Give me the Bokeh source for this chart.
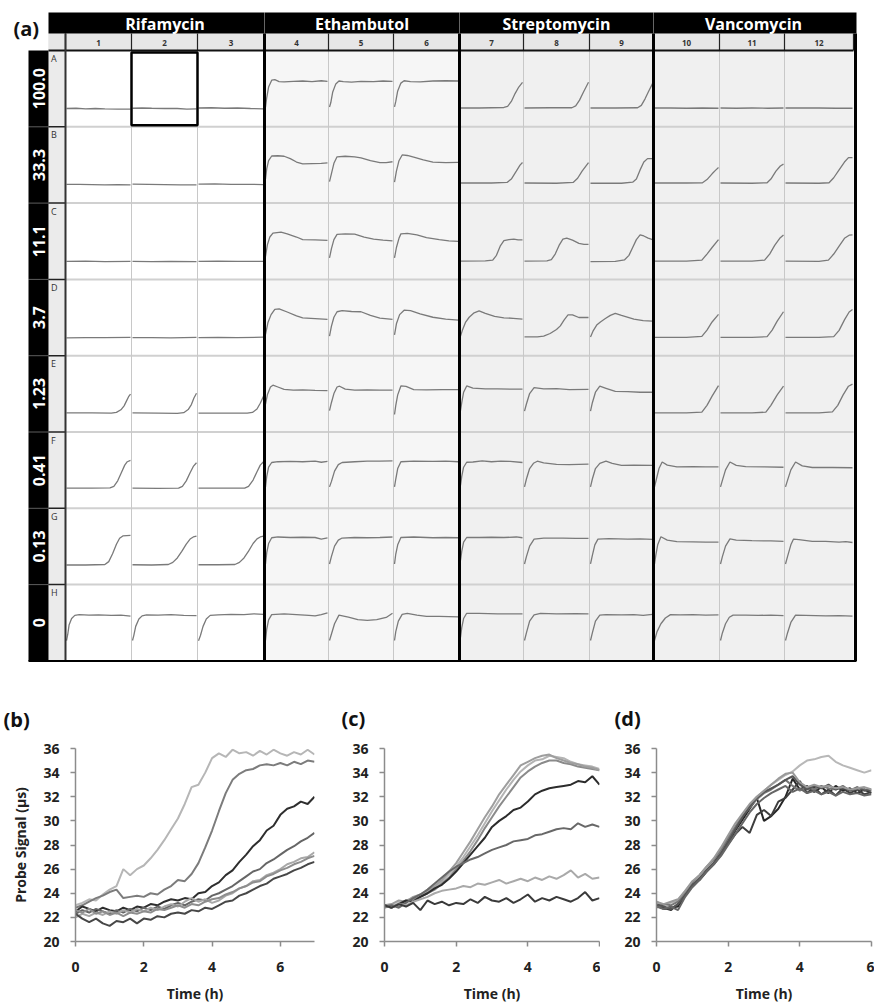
import math
from bokeh.plotting import figure
from bokeh.models import Range1d, FixedTicker
from bokeh.layouts import column, row
from bokeh.embed import file_html
from bokeh.resources import INLINE
from bokeh.core.properties import value

# ---------------- data: plate (a) ----------------
DRUGS = ["Rifamycin", "Ethambutol", "Streptomycin", "Vancomycin"]
CONCENTRATIONS = ["100.0", "33.3", "11.1", "3.7", "1.23", "0.41", "0.13", "0"]
ROW_LETTERS = ["A", "B", "C", "D", "E", "F", "G", "H"]
COLUMN_NUMBERS = ["1", "2", "3", "4", "5", "6", "7", "8", "9", "10", "11", "12"]
HIGHLIGHT_WELL = ("A", "2")

# each well: (fraction of the well's time span, probe signal in µs); rows A..H, three replicates
RIFAMYCIN = [
    [[(0, 22.8), (.15, 22.9), (.3, 22.7), (.45, 22.8), (.6, 22.7), (.8, 22.6), (1, 22.6)],
     [(0, 22.9), (.15, 23.0), (.3, 22.9), (.5, 22.8), (.7, 22.8), (.85, 22.6), (1, 22.7)],
     [(0, 23.0), (.2, 23.1), (.4, 22.9), (.6, 23.0), (.8, 22.8), (1, 22.7)]],
    [[(0, 23.0), (.2, 23.0), (.4, 22.9), (.6, 22.8), (.8, 22.9), (1, 22.8)],
     [(0, 23.1), (.25, 23.0), (.5, 22.9), (.75, 22.8), (1, 22.8)],
     [(0, 23.1), (.25, 23.2), (.5, 23.0), (.75, 23.0), (1, 22.9)]],
    [[(0, 22.7), (.3, 22.8), (.6, 22.6), (1, 22.7)],
     [(0, 22.7), (.3, 22.6), (.6, 22.7), (1, 22.6)],
     [(0, 22.7), (.3, 22.8), (.6, 22.7), (1, 22.7)]],
    [[(0, 22.6), (.3, 22.7), (.6, 22.7), (1, 22.8)],
     [(0, 22.7), (.3, 22.7), (.6, 22.6), (1, 22.8)],
     [(0, 22.7), (.3, 22.8), (.6, 22.7), (1, 22.9)]],
    [[(0, 23.1), (.4, 23.1), (.7, 23.0), (.78, 23.3), (.85, 24.3), (.9, 25.8), (.94, 27.8), (.97, 29.3), (1, 30.3)],
     [(0, 23.1), (.4, 23.0), (.7, 22.9), (.8, 23.2), (.87, 24.4), (.92, 26.3), (.96, 28.8), (1, 30.6)],
     [(0, 23.0), (.4, 23.0), (.75, 23.0), (.83, 23.3), (.9, 24.6), (.95, 26.8), (1, 29.5)]],
    [[(0, 23.5), (.4, 23.5), (.68, 23.6), (.74, 24.2), (.8, 26.3), (.86, 29.6), (.91, 32.3), (.95, 33.6), (1, 34.1)],
     [(0, 23.5), (.4, 23.4), (.72, 23.5), (.78, 24.2), (.84, 26.3), (.9, 29.4), (.95, 31.8), (1, 33.2)],
     [(0, 23.5), (.4, 23.5), (.71, 23.5), (.77, 24.2), (.84, 26.6), (.9, 29.8), (.95, 32.3), (1, 33.6)]],
    [[(0, 23.3), (.3, 23.3), (.6, 23.5), (.66, 24.6), (.72, 27.6), (.78, 31.2), (.83, 33.5), (.88, 34.4), (.94, 34.5), (1, 34.6)],
     [(0, 23.4), (.3, 23.3), (.56, 23.5), (.63, 24.3), (.7, 26.0), (.77, 28.5), (.84, 31.3), (.9, 33.2), (.95, 34.0), (1, 34.3)],
     [(0, 23.4), (.3, 23.4), (.56, 23.5), (.63, 24.3), (.7, 26.0), (.77, 28.6), (.84, 31.5), (.9, 33.3), (.95, 34.0), (1, 34.3)]],
    [[(0, 23.6), (.02, 26.0), (.04, 29.5), (.08, 32.0), (.13, 33.2), (.2, 33.5), (.35, 33.3), (.5, 33.4), (.7, 33.2), (.85, 33.3), (1, 32.9)],
     [(0, 23.6), (.02, 25.5), (.05, 29.0), (.1, 31.8), (.15, 33.0), (.22, 33.4), (.4, 33.3), (.6, 33.5), (.8, 33.2), (1, 33.1)],
     [(0, 23.5), (.03, 25.5), (.07, 29.0), (.12, 31.8), (.18, 33.2), (.3, 33.4), (.5, 33.6), (.7, 33.5), (.85, 33.8), (1, 33.6)]],
]

ETHAMBUTOL = [
    [[(0, 23.3), (.02, 27.0), (.05, 31.0), (.1, 33.6), (.15, 33.8), (.22, 33.1), (.3, 33.0), (.45, 33.2), (.6, 33.3), (.75, 33.1), (.9, 33.4), (1, 33.2)],
     [(0, 23.4), (.02, 25.0), (.05, 29.0), (.1, 32.2), (.15, 33.3), (.22, 33.1), (.35, 32.9), (.5, 33.2), (.7, 33.1), (.85, 33.3), (1, 33.2)],
     [(0, 23.4), (.02, 25.5), (.05, 29.5), (.1, 32.5), (.15, 33.4), (.25, 33.1), (.4, 33.0), (.6, 33.3), (.8, 33.4), (1, 33.3)]],
    [[(0, 25.1), (.02, 29.0), (.05, 32.0), (.1, 33.8), (.2, 33.9), (.3, 33.7), (.4, 32.8), (.5, 31.5), (.6, 30.8), (.75, 30.9), (.9, 31.0), (1, 31.2)],
     [(0, 24.0), (.03, 27.0), (.07, 31.0), (.12, 33.5), (.25, 33.7), (.4, 33.5), (.5, 33.1), (.65, 32.0), (.8, 31.3), (.9, 31.3), (1, 31.6)],
     [(0, 23.8), (.03, 28.0), (.07, 32.0), (.12, 34.2), (.2, 34.0), (.3, 33.4), (.45, 32.3), (.6, 31.5), (.8, 31.3), (1, 31.4)]],
    [[(0, 24.6), (.03, 29.0), (.07, 32.0), (.12, 33.5), (.25, 33.9), (.35, 33.2), (.5, 32.0), (.6, 31.0), (.8, 30.9), (1, 30.7)],
     [(0, 24.0), (.03, 27.5), (.07, 31.0), (.12, 33.0), (.25, 33.2), (.4, 33.1), (.55, 32.0), (.7, 31.2), (.85, 30.8), (1, 30.5)],
     [(0, 24.0), (.03, 28.0), (.07, 31.5), (.1, 33.2), (.2, 33.4), (.35, 32.8), (.5, 31.8), (.7, 31.0), (.85, 30.5), (1, 30.3)]],
    [[(0, 24.0), (.04, 28.5), (.09, 31.5), (.15, 33.5), (.22, 33.7), (.35, 32.5), (.5, 31.0), (.6, 30.3), (.8, 30.0), (1, 29.7)],
     [(0, 23.3), (.03, 27.0), (.07, 30.5), (.12, 32.6), (.2, 33.0), (.35, 32.7), (.5, 32.6), (.65, 31.2), (.8, 30.2), (1, 29.7)],
     [(0, 23.8), (.03, 28.0), (.08, 31.5), (.15, 33.2), (.25, 33.0), (.4, 31.8), (.6, 30.5), (.8, 29.8), (1, 29.4)]],
    [[(0, 26.5), (.03, 30.0), (.08, 33.0), (.12, 33.7), (.2, 33.0), (.3, 32.1), (.45, 31.8), (.6, 31.9), (.8, 31.7), (1, 31.6)],
     [(0, 24.0), (.03, 27.0), (.07, 30.5), (.12, 33.0), (.16, 33.3), (.25, 32.2), (.4, 31.8), (.6, 31.9), (.8, 31.8), (1, 31.8)],
     [(0, 22.5), (.02, 26.0), (.05, 30.0), (.1, 33.4), (.18, 33.2), (.3, 32.0), (.5, 31.9), (.75, 32.0), (1, 32.0)]],
    [[(0, 24.0), (.02, 28.0), (.05, 31.5), (.1, 33.3), (.2, 33.6), (.4, 33.7), (.6, 33.6), (.8, 33.8), (.9, 33.4), (1, 33.7)],
     [(0, 24.0), (.03, 26.0), (.08, 30.0), (.14, 32.5), (.2, 33.3), (.4, 33.6), (.6, 33.8), (.8, 33.8), (1, 33.9)],
     [(0, 24.0), (.02, 27.0), (.05, 31.0), (.1, 33.6), (.3, 33.8), (.6, 33.7), (.8, 33.8), (1, 33.6)]],
    [[(0, 23.7), (.02, 28.0), (.05, 31.5), (.1, 33.7), (.2, 34.0), (.4, 33.8), (.6, 33.9), (.8, 33.8), (.9, 33.2), (1, 33.7)],
     [(0, 23.7), (.03, 26.5), (.08, 30.5), (.14, 32.8), (.2, 33.6), (.4, 33.8), (.6, 33.7), (.8, 33.8), (1, 34.0)],
     [(0, 23.7), (.02, 27.5), (.05, 31.0), (.1, 33.8), (.3, 34.0), (.6, 33.7), (.8, 33.8), (1, 33.7)]],
    [[(0, 23.6), (.02, 28.0), (.05, 31.5), (.1, 33.5), (.3, 33.8), (.5, 33.5), (.7, 33.2), (.8, 33.0), (.9, 33.5), (1, 34.2)],
     [(0, 23.6), (.03, 26.0), (.08, 30.0), (.15, 33.3), (.3, 32.5), (.45, 31.6), (.6, 31.3), (.75, 31.6), (.9, 32.4), (1, 34.0)],
     [(0, 23.6), (.02, 27.0), (.06, 31.0), (.12, 33.6), (.2, 34.0), (.35, 33.3), (.5, 32.8), (.7, 32.8), (1, 32.6)]],
]

STREPTOMYCIN = [
    [[(0, 23.0), (.3, 23.0), (.5, 23.1), (.7, 23.2), (.76, 23.6), (.82, 25.5), (.88, 28.5), (.94, 31.0), (1, 32.8)],
     [(0, 23.0), (.4, 23.1), (.74, 23.1), (.8, 23.8), (.86, 26.0), (.92, 29.0), (1, 32.8)],
     [(0, 23.0), (.4, 23.0), (.76, 23.1), (.82, 24.0), (.88, 26.5), (.94, 29.5), (1, 32.3)]],
    [[(0, 23.5), (.5, 23.5), (.75, 23.7), (.82, 25.0), (.9, 28.0), (.96, 30.3), (1, 31.3)],
     [(0, 23.5), (.5, 23.4), (.76, 23.7), (.83, 25.3), (.9, 28.0), (1, 31.3)],
     [(0, 23.4), (.5, 23.4), (.68, 23.8), (.74, 25.0), (.8, 28.5), (.86, 31.5), (.92, 32.8), (1, 32.8)]],
    [[(0, 22.8), (.4, 22.9), (.52, 23.2), (.58, 25.0), (.64, 28.5), (.7, 30.6), (.78, 31.0), (.86, 31.2), (.93, 30.9), (1, 30.9)],
     [(0, 22.8), (.35, 22.9), (.42, 23.4), (.48, 25.5), (.54, 28.8), (.6, 31.2), (.66, 31.6), (.75, 30.8), (.85, 29.6), (.93, 29.2), (1, 29.2)],
     [(0, 22.6), (.4, 22.7), (.55, 23.3), (.62, 25.0), (.68, 28.0), (.74, 31.0), (.8, 32.8), (.86, 32.4), (.93, 31.6), (1, 31.0)]],
    [[(0, 23.3), (.03, 25.5), (.08, 28.5), (.14, 30.5), (.22, 32.2), (.3, 32.9), (.4, 32.0), (.55, 30.8), (.7, 30.3), (.85, 30.1), (1, 29.8)],
     [(0, 23.0), (.2, 23.0), (.3, 23.3), (.4, 24.3), (.5, 25.8), (.56, 27.2), (.62, 29.5), (.68, 31.4), (.75, 31.4), (.85, 30.4), (1, 30.4)],
     [(0, 23.0), (.04, 25.2), (.1, 27.5), (.16, 28.7), (.24, 30.0), (.32, 31.2), (.4, 32.0), (.5, 31.2), (.7, 29.8), (.85, 29.2), (1, 29.0)]],
    [[(0, 24.0), (.02, 27.0), (.05, 31.0), (.1, 33.4), (.2, 32.6), (.4, 32.3), (.6, 32.3), (.8, 32.2), (1, 32.2)],
     [(0, 23.8), (.03, 26.5), (.08, 30.5), (.15, 32.8), (.3, 32.3), (.5, 32.4), (.7, 32.0), (1, 32.1)],
     [(0, 23.8), (.03, 27.0), (.08, 31.0), (.15, 33.3), (.25, 32.5), (.4, 31.3), (.6, 31.2), (.8, 31.0), (1, 31.0)]],
    [[(0, 24.6), (.02, 28.0), (.05, 31.5), (.1, 33.4), (.2, 33.5), (.35, 33.9), (.5, 33.6), (.65, 33.8), (.8, 33.7), (1, 33.3)],
     [(0, 24.0), (.03, 27.0), (.08, 31.0), (.14, 33.0), (.2, 33.8), (.3, 33.2), (.5, 32.6), (.7, 32.5), (1, 32.7)],
     [(0, 24.0), (.03, 27.0), (.08, 31.0), (.15, 33.0), (.25, 33.8), (.35, 33.0), (.5, 32.2), (.7, 32.3), (1, 32.2)]],
    [[(0, 25.1), (.02, 28.5), (.05, 32.0), (.1, 33.8), (.3, 33.8), (.5, 33.9), (.7, 33.8), (.9, 34.0), (1, 33.7)],
     [(0, 23.7), (.03, 26.5), (.08, 30.5), (.15, 33.2), (.3, 33.6), (.6, 33.6), (.8, 33.5), (1, 33.5)],
     [(0, 23.7), (.03, 27.0), (.07, 31.0), (.12, 33.2), (.3, 33.4), (.6, 33.2), (.8, 33.3), (1, 33.1)]],
    [[(0, 24.8), (.02, 28.5), (.05, 32.0), (.1, 34.0), (.3, 34.0), (.6, 33.8), (.8, 33.8), (1, 33.8)],
     [(0, 23.6), (.03, 26.5), (.08, 31.0), (.15, 33.4), (.25, 34.0), (.5, 33.8), (.8, 33.9), (1, 33.8)],
     [(0, 23.6), (.03, 26.5), (.08, 31.0), (.15, 33.3), (.25, 33.5), (.5, 33.4), (.7, 33.5), (.85, 33.2), (1, 33.6)]],
]

VANCOMYCIN = [
    [[(0, 23.0), (.25, 23.0), (.5, 22.9), (.75, 23.0), (1, 22.9)],
     [(0, 23.0), (.25, 22.9), (.5, 23.0), (.75, 22.9), (1, 23.0)],
     [(0, 23.0), (.25, 23.0), (.5, 23.0), (.75, 22.9), (1, 22.9)]],
    [[(0, 23.5), (.5, 23.5), (.75, 23.6), (.82, 24.8), (.9, 27.0), (.96, 28.5), (1, 29.4)],
     [(0, 23.5), (.5, 23.4), (.74, 23.6), (.8, 25.0), (.88, 28.0), (.95, 30.0), (1, 30.7)],
     [(0, 23.5), (.5, 23.4), (.65, 23.6), (.72, 25.5), (.8, 28.5), (.88, 31.5), (.94, 33.2), (1, 33.2)]],
    [[(0, 22.8), (.5, 22.8), (.74, 23.2), (.82, 25.5), (.9, 28.0), (1, 31.0)],
     [(0, 22.8), (.5, 22.8), (.7, 23.2), (.78, 25.5), (.86, 28.8), (.94, 31.5), (1, 32.8)],
     [(0, 22.8), (.5, 22.7), (.64, 23.2), (.72, 25.5), (.8, 28.5), (.88, 31.5), (.95, 32.7), (1, 32.8)]],
    [[(0, 22.8), (.5, 22.8), (.74, 23.2), (.82, 25.6), (.9, 28.7), (1, 31.6)],
     [(0, 22.8), (.5, 22.8), (.74, 23.1), (.82, 25.6), (.9, 29.0), (1, 32.6)],
     [(0, 22.8), (.5, 22.8), (.72, 23.1), (.8, 25.5), (.88, 29.5), (.95, 32.5), (1, 33.5)]],
    [[(0, 23.1), (.5, 23.1), (.74, 23.4), (.82, 26.0), (.9, 29.5), (1, 33.5)],
     [(0, 23.1), (.5, 23.1), (.72, 23.4), (.8, 26.0), (.9, 30.0), (1, 33.3)],
     [(0, 23.1), (.5, 23.1), (.7, 23.5), (.78, 26.0), (.86, 30.0), (.94, 33.3), (1, 34.1)]],
    [[(0, 24.0), (.03, 27.0), (.07, 31.0), (.12, 33.5), (.2, 32.3), (.35, 31.6), (.6, 31.7), (.8, 31.6), (1, 31.6)],
     [(0, 24.0), (.03, 26.5), (.08, 30.5), (.15, 33.5), (.25, 32.2), (.4, 31.7), (.7, 31.6), (1, 31.5)],
     [(0, 24.0), (.03, 26.5), (.08, 30.5), (.15, 33.5), (.25, 32.0), (.4, 31.4), (.7, 31.4), (1, 31.3)]],
    [[(0, 23.7), (.02, 27.0), (.05, 31.0), (.1, 34.1), (.2, 32.8), (.35, 32.2), (.6, 32.1), (.8, 32.0), (1, 32.0)],
     [(0, 23.7), (.03, 26.5), (.08, 30.5), (.15, 33.3), (.25, 32.8), (.5, 32.6), (.8, 32.5), (1, 32.3)],
     [(0, 23.7), (.03, 26.5), (.08, 31.0), (.12, 33.2), (.2, 33.0), (.4, 32.3), (.6, 32.3), (.8, 32.0), (.9, 32.2), (1, 31.9)]],
    [[(0, 23.6), (.04, 27.0), (.1, 30.0), (.17, 32.2), (.25, 33.5), (.4, 33.4), (.6, 33.5), (.8, 33.3), (1, 33.4)],
     [(0, 23.6), (.03, 26.5), (.08, 30.0), (.14, 32.5), (.2, 33.3), (.4, 33.3), (.6, 33.2), (.8, 33.3), (1, 33.1)],
     [(0, 23.6), (.03, 26.5), (.08, 30.5), (.15, 33.3), (.3, 33.2), (.6, 33.0), (.8, 33.1), (1, 32.9)]],
]

PLATE = [RIFAMYCIN, ETHAMBUTOL, STREPTOMYCIN, VANCOMYCIN]

# ---------------- data: panels (b), (c), (d) ----------------
TIME_B = [0.0, 0.2, 0.4, 0.6, 0.8, 1.0, 1.2, 1.4, 1.6, 1.8, 2.0, 2.2, 2.4, 2.6, 2.8, 3.0, 3.2, 3.4,
          3.6, 3.8, 4.0, 4.2, 4.4, 4.6, 4.8, 5.0, 5.2, 5.4, 5.6, 5.8, 6.0, 6.2, 6.4, 6.6, 6.8, 7.0]
RIF_CURVES = [
    [23.0, 23.2, 23.5, 23.4, 23.9, 24.3, 24.6, 26.0, 25.5, 26.0, 26.3, 26.9, 27.6, 28.4, 29.3, 30.2, 31.4, 32.8,
     33.0, 34.0, 35.2, 35.6, 35.3, 35.9, 35.6, 35.7, 35.4, 35.8, 35.5, 35.9, 35.6, 35.4, 35.7, 35.5, 35.9, 35.5],
    [22.8, 23.0, 23.3, 23.6, 23.8, 24.1, 24.3, 23.6, 23.7, 23.8, 23.7, 24.0, 23.9, 24.3, 24.6, 25.1, 25.0, 25.6,
     26.5, 27.8, 29.2, 30.8, 32.3, 33.4, 33.9, 34.2, 34.3, 34.6, 34.7, 34.6, 34.8, 34.6, 34.9, 34.7, 35.0, 34.9],
    [22.5, 22.9, 22.7, 22.5, 22.8, 22.6, 22.5, 22.8, 22.6, 22.9, 22.8, 23.1, 23.0, 23.3, 23.5, 23.4, 23.6, 23.5,
     24.0, 24.1, 24.6, 24.9, 25.5, 25.9, 26.6, 27.2, 27.9, 28.4, 29.2, 29.6, 30.5, 31.0, 31.2, 31.6, 31.4, 32.0],
    [22.3, 22.6, 22.4, 22.7, 22.5, 22.3, 22.6, 22.4, 22.7, 22.5, 22.8, 22.6, 22.9, 22.7, 23.0, 23.2, 23.0, 23.3,
     23.5, 23.4, 23.8, 24.0, 24.3, 24.6, 25.0, 25.4, 25.8, 26.0, 26.5, 26.8, 27.2, 27.6, 27.9, 28.3, 28.6, 29.0],
    [22.0, 22.3, 22.1, 22.4, 22.2, 22.5, 22.3, 22.6, 22.4, 22.7, 22.5, 22.8, 22.6, 22.9, 23.1, 22.9, 23.3, 23.6,
     23.3, 23.5, 23.2, 23.4, 23.8, 24.0, 24.4, 24.6, 25.0, 25.1, 25.5, 25.7, 26.0, 26.4, 26.6, 26.9, 27.0, 27.4],
    [22.6, 22.4, 22.7, 22.3, 22.5, 22.2, 22.4, 22.1, 22.4, 22.3, 22.5, 22.4, 22.7, 22.6, 22.8, 23.0, 22.8, 23.1,
     23.0, 23.3, 23.5, 23.6, 23.9, 24.1, 24.4, 24.6, 24.9, 25.0, 25.4, 25.6, 25.9, 26.1, 26.4, 26.6, 26.9, 27.1],
    [22.3, 21.9, 21.6, 21.9, 21.5, 21.3, 21.7, 21.6, 21.9, 21.5, 21.9, 21.8, 22.1, 22.0, 22.3, 22.4, 22.3, 22.6,
     22.5, 22.8, 22.7, 23.0, 23.3, 23.4, 23.8, 24.0, 24.3, 24.6, 24.8, 25.2, 25.4, 25.6, 25.9, 26.1, 26.4, 26.6],
]
RIF_COLORS = ["#b6b6b6", "#7c7c7c", "#2e2e2e", "#666666", "#a8a8a8", "#8e8e8e", "#474747"]

TIME_C = [0.0, 0.2, 0.4, 0.6, 0.8, 1.0, 1.2, 1.4, 1.6, 1.8, 2.0, 2.2, 2.4, 2.6, 2.8, 3.0,
          3.2, 3.4, 3.6, 3.8, 4.0, 4.2, 4.4, 4.6, 4.8, 5.0, 5.2, 5.4, 5.6, 5.8, 6.0]
STR_CURVES = [
    [23.0, 22.9, 23.2, 23.4, 23.6, 23.8, 24.1, 24.5, 25.0, 25.6, 26.2, 27.0, 27.9, 28.8, 29.8, 30.8,
     31.7, 32.6, 33.4, 34.1, 34.6, 35.0, 35.1, 35.4, 35.3, 35.2, 34.9, 34.7, 34.6, 34.5, 34.3],
    [22.8, 23.0, 22.9, 23.3, 23.5, 23.7, 24.0, 24.3, 24.8, 25.3, 26.0, 26.7, 27.5, 28.4, 29.4, 30.3,
     31.2, 32.0, 32.8, 33.6, 34.1, 34.5, 34.8, 35.0, 35.0, 34.8, 34.7, 34.5, 34.4, 34.3, 34.2],
    [23.0, 23.1, 23.4, 23.3, 23.7, 23.9, 24.2, 24.6, 25.1, 25.8, 26.5, 27.4, 28.3, 29.3, 30.3, 31.2,
     32.2, 33.0, 33.8, 34.6, 34.9, 35.2, 35.4, 35.5, 35.2, 35.0, 34.8, 34.7, 34.5, 34.4, 34.2],
    [23.0, 22.8, 23.1, 23.4, 23.3, 23.7, 24.0, 24.4, 24.7, 25.2, 25.8, 26.5, 27.2, 27.9, 28.6, 29.5,
     30.0, 30.4, 30.9, 31.1, 31.6, 32.2, 32.5, 32.7, 32.8, 32.9, 33.0, 33.3, 33.2, 33.7, 33.0],
    [22.9, 23.0, 22.8, 23.2, 23.6, 23.9, 24.3, 24.8, 25.3, 25.8, 26.2, 26.5, 26.8, 27.0, 27.3, 27.6,
     27.8, 28.0, 28.3, 28.4, 28.5, 28.8, 28.9, 29.1, 29.3, 29.4, 29.3, 29.8, 29.5, 29.7, 29.5],
    [23.0, 22.8, 23.1, 23.0, 23.3, 23.5, 23.7, 24.0, 24.2, 24.3, 24.4, 24.6, 24.5, 24.8, 24.7, 24.9,
     25.1, 24.8, 25.0, 25.2, 25.0, 25.3, 25.1, 25.4, 25.2, 25.5, 25.9, 25.3, 25.6, 25.2, 25.3],
    [23.0, 22.8, 23.1, 22.9, 23.2, 22.6, 23.4, 23.1, 23.3, 23.0, 23.2, 23.1, 23.5, 23.2, 23.7, 23.4,
     23.3, 23.6, 23.2, 23.5, 23.9, 23.3, 23.6, 23.4, 23.7, 23.5, 23.3, 23.6, 24.1, 23.4, 23.6],
]
STR_COLORS = ["#b4b4b4", "#8a8a8a", "#9e9e9e", "#2c2c2c", "#686868", "#a9a9a9", "#3a3a3a"]

TIME_D = TIME_C
VAN_CURVES = [
    [23.3, 23.0, 23.2, 23.4, 24.2, 24.9, 25.4, 26.1, 26.7, 27.6, 28.5, 29.5, 30.4, 31.3, 32.0, 32.5,
     33.0, 33.4, 33.8, 34.1, 34.6, 35.0, 35.1, 35.3, 35.4, 34.9, 34.6, 34.4, 34.2, 34.0, 34.2],
    [23.0, 22.7, 22.8, 22.9, 23.8, 24.6, 25.2, 25.9, 26.5, 27.3, 28.2, 29.2, 30.1, 31.0, 31.9, 30.0,
     30.4, 31.0, 32.0, 33.5, 32.6, 32.9, 32.4, 32.8, 32.3, 32.9, 32.5, 32.7, 32.3, 32.6, 32.3],
    [22.9, 22.8, 22.6, 23.1, 23.9, 24.7, 25.1, 25.8, 26.4, 27.2, 28.1, 28.9, 29.5, 29.0, 30.5, 30.9,
     30.4, 31.6, 31.9, 32.6, 33.3, 32.3, 32.8, 32.2, 32.6, 32.1, 32.7, 32.3, 32.6, 32.2, 32.4],
    [22.8, 23.1, 23.0, 23.3, 24.1, 24.9, 25.5, 26.2, 26.8, 27.6, 28.6, 29.5, 30.4, 31.1, 31.8, 32.3,
     32.6, 33.0, 33.4, 32.9, 32.5, 32.8, 32.6, 32.9, 32.7, 32.6, 32.9, 32.5, 32.7, 32.6, 32.5],
    [23.1, 22.9, 22.7, 23.1, 23.8, 24.7, 25.2, 25.9, 26.5, 27.3, 28.3, 29.3, 30.3, 31.2, 31.9, 32.4,
     32.7, 33.0, 33.4, 33.7, 33.0, 32.6, 32.9, 32.7, 33.0, 32.6, 32.8, 32.5, 32.8, 32.5, 32.6],
    [23.3, 23.1, 23.3, 23.5, 24.2, 25.0, 25.5, 26.2, 26.9, 27.8, 28.8, 29.8, 30.6, 31.4, 32.0, 32.5,
     33.0, 33.5, 33.9, 34.0, 33.2, 32.8, 33.0, 32.8, 32.9, 32.7, 32.8, 32.6, 32.7, 32.8, 32.6],
    [22.9, 22.7, 22.9, 22.6, 23.7, 24.5, 25.1, 25.8, 26.4, 27.1, 28.0, 28.9, 29.8, 30.7, 31.4, 31.9,
     32.3, 32.6, 32.9, 32.4, 32.7, 32.3, 32.5, 32.2, 32.4, 32.1, 32.4, 32.2, 32.3, 32.1, 32.2],
]
VAN_COLORS = ["#b8b8b8", "#262626", "#3e3e3e", "#777777", "#555555", "#9a9a9a", "#666666"]

Y_TICKS = [20, 22, 24, 26, 28, 30, 32, 34, 36]
X_TICKS = [0, 2, 4, 6]

# ---------------- layout constants ----------------
W = 874
HA = 735
COL_EDGES = [65, 131, 197, 264, 328, 393, 459, 523, 589, 653, 719, 784, 853]
GRID_TOP = 50
ROW_H = 76.3
GRID_BOTTOM = GRID_TOP + 8 * ROW_H
BASE_OFFSET = 57.5     # px below a well's top for 23 µs
PX_PER_US = 2.62
FONT = "Open Sans"

pa = figure(width=W, height=HA, x_range=Range1d(0, W), y_range=Range1d(HA, 0),
            output_backend="svg", toolbar_location=None, min_border=0,
            x_axis_location=None, y_axis_location=None)
pa.grid.visible = False
pa.outline_line_color = None
pa.background_fill_color = "white"
pa.border_fill_color = "white"

# well backgrounds per drug
bg = ["#ffffff", "#f6f6f6", "#f0f0f0", "#f0f0f0"]
pa.quad(left=[COL_EDGES[3 * d] for d in range(4)], right=[COL_EDGES[3 * d + 3] for d in range(4)],
        top=[GRID_TOP] * 4, bottom=[GRID_BOTTOM] * 4, fill_color=bg, line_color=None)

row_edges = [GRID_TOP + r * ROW_H for r in range(9)]
# light grid lines
pa.segment(x0=[COL_EDGES[0]] * 7, x1=[COL_EDGES[-1]] * 7, y0=row_edges[1:8], y1=row_edges[1:8],
           line_color="#d0d0d0", line_width=2)
inner_cols = [COL_EDGES[i] for i in range(1, 12) if i % 3 != 0]
pa.segment(x0=inner_cols, x1=inner_cols, y0=[GRID_TOP] * len(inner_cols), y1=[GRID_BOTTOM] * len(inner_cols),
           line_color="#c8c8c8", line_width=1)

# well curves
xs, ys = [], []
for d, drug in enumerate(PLATE):
    for r, wells in enumerate(drug):
        for k, curve in enumerate(wells):
            c = 3 * d + k
            x0, x1 = COL_EDGES[c], COL_EDGES[c + 1]
            top = row_edges[r]
            xs.append([x0 + 1 + u * (x1 - x0 - 2) for u, s in curve])
            ys.append([top + BASE_OFFSET - (s - 23) * PX_PER_US for u, s in curve])
pa.multi_line(xs=xs, ys=ys, line_color="#7a7a7a", line_width=1.3)

# letter column and number row
pa.quad(left=[48], right=[COL_EDGES[0]], top=[33], bottom=[GRID_BOTTOM], fill_color="#ebebeb", line_color=None)
pa.quad(left=[48], right=[COL_EDGES[-1]], top=[33], bottom=[GRID_TOP], fill_color="#e6e6e6", line_color=None)
pa.segment(x0=[48] * 7, x1=[COL_EDGES[0]] * 7, y0=row_edges[1:8], y1=row_edges[1:8], line_color="#222222", line_width=1.5)
pa.segment(x0=COL_EDGES, x1=COL_EDGES, y0=[33] * 13, y1=[GRID_TOP] * 13, line_color="#222222", line_width=1.2)
pa.segment(x0=[48], x1=[COL_EDGES[-1]], y0=[GRID_TOP], y1=[GRID_TOP], line_color="#111111", line_width=2)
pa.segment(x0=[COL_EDGES[0]], x1=[COL_EDGES[0]], y0=[33], y1=[GRID_BOTTOM], line_color="#333333", line_width=2)

# concentration bar
pa.quad(left=[28], right=[48], top=[GRID_TOP], bottom=[GRID_BOTTOM], fill_color="black", line_color=None)
pa.segment(x0=[28] * 7, x1=[48] * 7, y0=row_edges[1:8], y1=row_edges[1:8], line_color="#bbbbbb",
           line_width=1, line_dash="1 1")
pa.text(x=[38.5] * 8, y=[row_edges[r] + ROW_H / 2 for r in range(8)], text=CONCENTRATIONS,
        angle=math.pi / 2, text_font=value(FONT), text_font_size=value("16px"), text_font_style="bold",
        text_color="white", text_align="center", text_baseline="middle")

# header
pa.quad(left=[48], right=[856], top=[12], bottom=[33], fill_color="black", line_color=None)
group_edges = [COL_EDGES[3], COL_EDGES[6], COL_EDGES[9]]
pa.segment(x0=group_edges, x1=group_edges, y0=[12] * 3, y1=[33] * 3, line_color="#cccccc",
           line_width=1, line_dash="1 1")
pa.text(x=[(COL_EDGES[3 * d] + COL_EDGES[3 * d + 3]) / 2 for d in range(4)], y=[23] * 4, text=DRUGS,
        text_font=value(FONT), text_font_size=value("16px"), text_font_style="bold",
        text_color="white", text_align="center", text_baseline="middle")
pa.text(x=[(COL_EDGES[i] + COL_EDGES[i + 1]) / 2 for i in range(12)], y=[42] * 12, text=COLUMN_NUMBERS,
        text_font=value(FONT), text_font_size=value("8px"), text_font_style="bold",
        text_color="#333333", text_align="center", text_baseline="middle")
pa.text(x=[50.5] * 8, y=[row_edges[r] + 8 for r in range(8)], text=ROW_LETTERS,
        text_font=value(FONT), text_font_size=value("9px"), text_color="#333333",
        text_align="left", text_baseline="middle")

# thick group separators and frame
pa.segment(x0=group_edges + [855], x1=group_edges + [855], y0=[33] * 4, y1=[GRID_BOTTOM] * 4,
           line_color="black", line_width=3)
pa.segment(x0=[28], x1=[856], y0=[GRID_BOTTOM], y1=[GRID_BOTTOM], line_color="black", line_width=2)

# highlighted well
hr = ROW_LETTERS.index(HIGHLIGHT_WELL[0])
hc = COLUMN_NUMBERS.index(HIGHLIGHT_WELL[1])
pa.quad(left=[COL_EDGES[hc]], right=[COL_EDGES[hc + 1]], top=[row_edges[hr] + 2], bottom=[row_edges[hr + 1] - 1.5],
        fill_color=None, line_color="black", line_width=2.5)

# panel letters
pa.text(x=[13, 3, 341, 614], y=[28, 719, 718, 718], text=["(a)", "(b)", "(c)", "(d)"],
        text_font=value(FONT), text_font_size=value("20px"), text_font_style="bold",
        text_color="#111111", text_align="left", text_baseline="middle")


def panel(xmax, w, ml, mr, mt, mb, h, times, series, colors, ylabel=None):
    p = figure(width=w, height=h, x_range=Range1d(0, xmax), y_range=Range1d(20, 36),
               output_backend="svg", toolbar_location=None, title=None,
               min_border_left=ml, min_border_right=mr, min_border_top=mt, min_border_bottom=mb)
    p.grid.visible = False
    p.outline_line_color = None
    for ax in (p.xaxis[0], p.yaxis[0]):
        ax.axis_line_color = "#8c8c8c"
        ax.axis_line_width = 1.5
        ax.major_tick_line_color = "#8c8c8c"
        ax.major_tick_line_width = 1.5
        ax.major_tick_in = 0
        ax.major_tick_out = 5
        ax.minor_tick_line_color = None
        ax.major_label_text_font = FONT
        ax.major_label_text_font_size = "14px"
        ax.major_label_text_font_style = "bold"
        ax.major_label_text_color = "#222222"
        ax.axis_label_text_font = FONT
        ax.axis_label_text_font_size = "14px"
        ax.axis_label_text_font_style = "bold"
        ax.axis_label_text_color = "#222222"
    p.xaxis.ticker = FixedTicker(ticks=X_TICKS)
    p.yaxis.ticker = FixedTicker(ticks=Y_TICKS)
    p.xaxis.axis_label = "Time (h)"
    p.xaxis.major_label_standoff = 15
    p.xaxis.axis_label_standoff = 9
    p.yaxis.major_label_standoff = 11
    if ylabel:
        p.yaxis.axis_label = ylabel
        p.yaxis.axis_label_standoff = 10
    for s, c in zip(series, colors):
        p.line(times, s, line_color=c, line_width=2)
    return p


HB = 1005 - HA
pb = panel(7, 318, 75, 4, 13, HB - 13 - 199, HB, TIME_B, RIF_CURVES, RIF_COLORS, "Probe Signal (\u00b5s)")
pc = panel(6, 282, 66, 1, 13, HB - 13 - 199, HB, TIME_C, STR_CURVES, STR_COLORS)
pd = panel(6, 274, 56, 3, 8, HB - 8 - 199, HB, TIME_D, VAN_CURVES, VAN_COLORS)

layout = column(pa, row(pb, pc, pd))
open("out.html", "w").write(file_html(layout, INLINE))
